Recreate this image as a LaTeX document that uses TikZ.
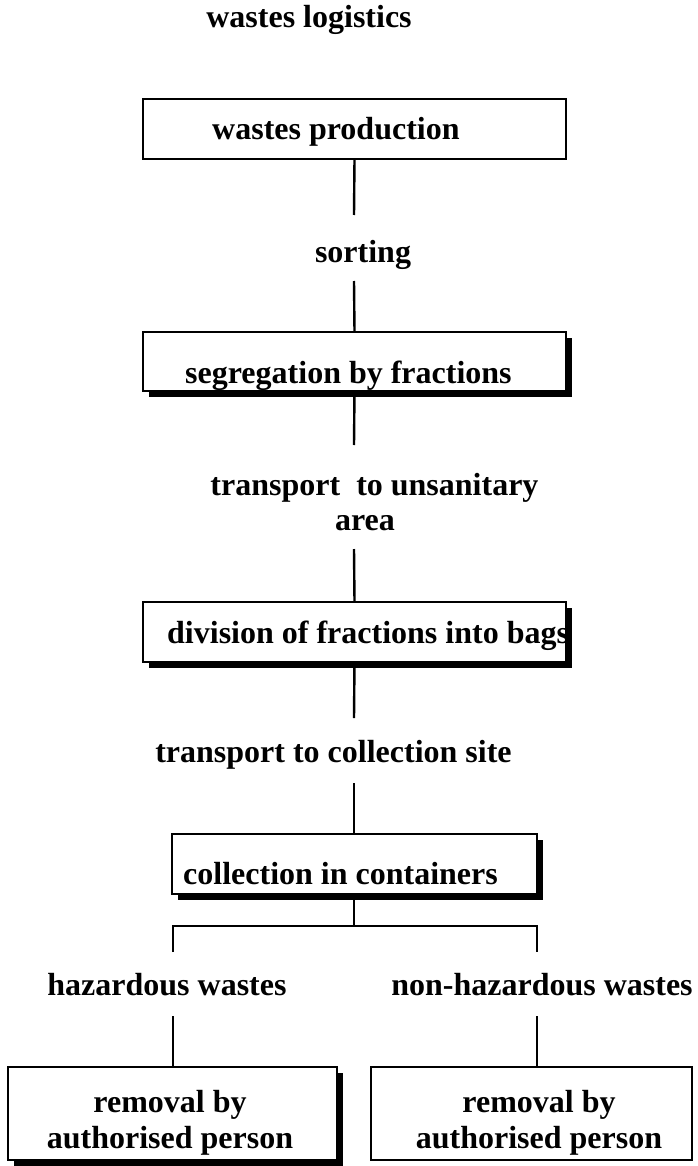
\documentclass[tikz,border=0pt]{standalone}
\usepackage{fontspec}
\setmainfont{Liberation Serif}
\usetikzlibrary{shadows}
\tikzset{
  box/.style={draw, line width=2.2pt, fill=white, inner sep=0pt, outer sep=0pt, anchor=north west},
  shbox/.style={box, drop shadow={shadow xshift=6pt, shadow yshift=-6pt, opacity=1, fill=black}},
  lbl/.style={inner sep=0pt, font=\fontsize{32}{36}\selectfont\bfseries},
  con/.style={line width=2.4pt}
}
\begin{document}
\begin{tikzpicture}[x=1pt,y=1pt]
    \useasboundingbox (0,0) rectangle (697,-1166);
    
    %Title
    \node[lbl, anchor=base] (title) at (309,-28) {wastes logistics};
    %Production
    \node[box, minimum width=423pt, minimum height=60pt] (prod) at (143,-99) {};
    \node[lbl, anchor=base west] (tprod) at (212,-140) {wastes production};
    \coordinate (p1) at (354,-215);
    \draw[con] (prod.south) -- (p1);
    \node[lbl, anchor=base] (sort) at (363,-262) {sorting};
    \coordinate (p2) at (354,-281);
    %Segregation
    \node[shbox, minimum width=423pt, minimum height=59pt] (segr) at (143,-332) {};
    \node[lbl, anchor=base west] (tsegr) at (185,-383) {segregation by fractions};
    \draw[con] (p2) -- (segr.north);
    \coordinate (p3) at (354,-445);
    \draw[con] (segr.south) -- (p3);
    \node[lbl, anchor=base, align=center] (unsan) at (365,-530) {\hspace*{19pt}transport\ \ to unsanitary\\[-1pt]area};
    \coordinate (p4) at (354,-549);
    %Division
    \node[shbox, minimum width=423pt, minimum height=60pt] (divi) at (143,-602) {};
    \node[lbl, anchor=base west] (tdivi) at (167,-643) {division of fractions into bags};
    \draw[con] (p4) -- (divi.north);
    \coordinate (p5) at (354,-718);
    \draw[con] (divi.south) -- (p5);
    \node[lbl, anchor=base] (site) at (333.5,-762) {transport to collection site};
    \coordinate (p6) at (354,-783);
    %Collection
    \node[shbox, minimum width=365pt, minimum height=60pt] (coll) at (172,-834) {};
    \node[lbl, anchor=base west] (tcoll) at (183,-884) {collection in containers};
    \draw[con] (p6) -- (p6 |- coll.north);
    %Branch
    \coordinate (brL) at (173,-926);
    \coordinate (brR) at (537,-926);
    \coordinate (hzT) at (173,-952);
    \coordinate (nhT) at (537,-952);
    \draw[con] (p6 |- coll.south) -- (p6 |- brL);
    \draw[con] (hzT) -- (brL) -- (brR) -- (nhT);
    \node[lbl, anchor=base] (haz) at (167,-995) {hazardous wastes};
    \node[lbl, anchor=base] (nonhaz) at (542,-995) {non-hazardous wastes};
    \coordinate (hzB) at (173,-1016);
    \coordinate (nhB) at (537,-1016);
    %Removal
    \node[shbox, minimum width=329pt, minimum height=93pt] (remL) at (8,-1067) {};
    \node[box, minimum width=321pt, minimum height=93pt] (remR) at (371,-1067) {};
    \draw[con] (hzB) -- (hzB |- remL.north);
    \draw[con] (nhB) -- (nhB |- remR.north);
    \node[lbl, anchor=base, align=center] (tremL) at (170,-1148) {removal by\\authorised person};
    \node[lbl, anchor=base, align=center] (tremR) at (539,-1148) {removal by\\authorised person};
\end{tikzpicture}
\end{document}
